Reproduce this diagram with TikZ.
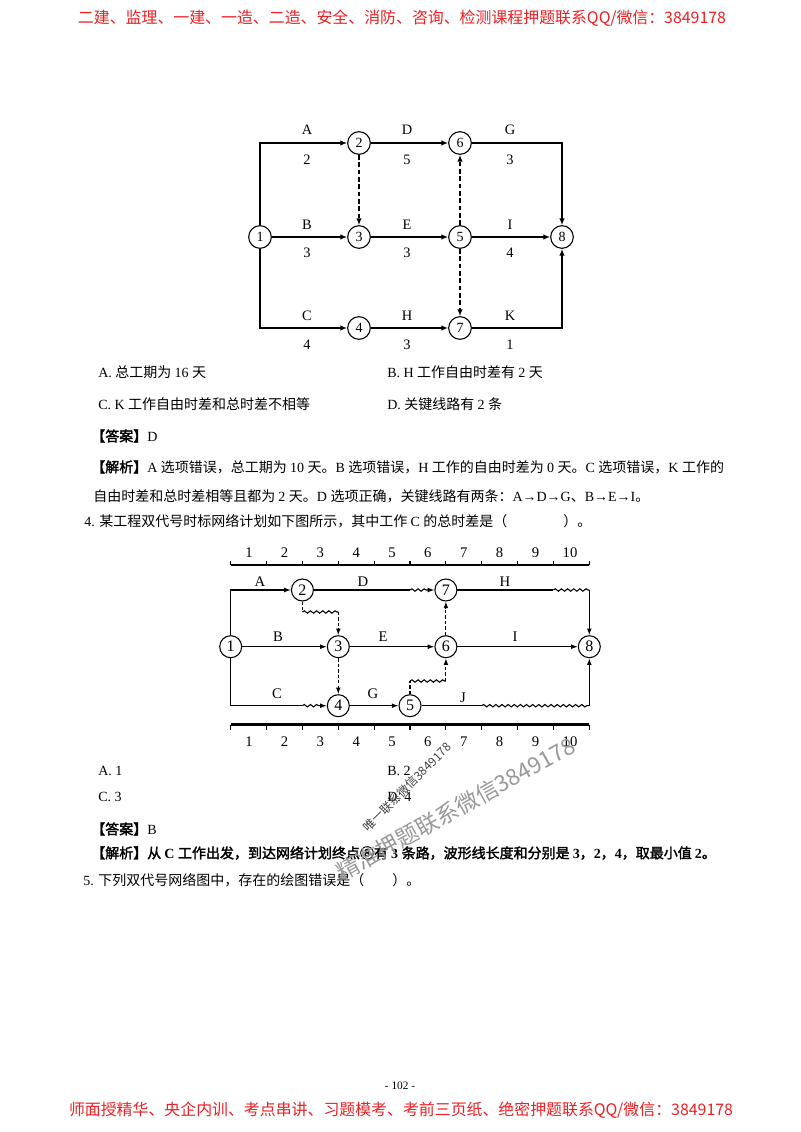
\documentclass[tikz,border=0pt]{standalone}
\usepackage{fontspec}
\setmainfont{Liberation Serif}
\newfontfamily\cjkfam{Noto Sans CJK SC}[AutoFakeBold=2]
\usetikzlibrary{arrows.meta,decorations.pathmorphing}
% automatic switching between the Latin font and the CJK font
\XeTeXinterchartokenstate=1
\chardef\cjkclass=7
\newcount\cjkc
\def\cjkrange#1#2{\cjkc=#1\relax\loop\XeTeXcharclass\cjkc=\cjkclass\relax\ifnum\cjkc<#2\relax\advance\cjkc by 1\relax\repeat}
\cjkrange{"4E00}{"9FFF}
\cjkrange{"3000}{"303F}
\cjkrange{"FF00}{"FFEF}
\cjkrange{"2460}{"24FF}
\XeTeXinterchartoks 0 \cjkclass = {\cjkfam}
\XeTeXinterchartoks 4095 \cjkclass = {\cjkfam}
\XeTeXinterchartoks \cjkclass 0 = {\rmfamily}
\XeTeXinterchartoks 4095 0 = {\rmfamily}
\definecolor{hdr}{RGB}{238,32,36}
\tikzset{
  hdrtxt/.style={text=hdr,inner sep=0pt,font={\XeTeXinterchartokenstate=0 \cjkfam\fontsize{11.93}{13}\selectfont}},
  txt/.style={anchor=west,inner sep=0pt,font=\fontsize{10.5}{12}\selectfont},
  wmark/.style={inner sep=0pt,font={\XeTeXinterchartokenstate=0 \cjkfam\fontsize{#1}{#1}\selectfont}},
  c1/.style={circle,draw,line width=0.8pt,minimum size=17pt,inner sep=0pt,fill=white,font=\fontsize{10.5}{10.5}\selectfont},
  lab1/.style={inner sep=0pt,font=\fontsize{10.8}{11}\selectfont},
  e1/.style={line width=1.2pt,-{Latex[length=5pt,width=4pt]}},
  d1/.style={e1,dash pattern=on 3.5pt off 2pt},
  c2/.style={circle,draw,line width=0.8pt,minimum size=16.5pt,inner sep=0pt,fill=white,font=\fontsize{12}{12}\selectfont},
  lab2/.style={inner sep=0pt,font=\fontsize{11}{11}\selectfont},
  sc/.style={inner sep=0pt,font=\fontsize{11}{11}\selectfont},
  l2/.style={line width=0.8pt},
  e2/.style={line width=0.8pt,-{Latex[length=5pt,width=3.6pt]}},
  d2/.style={line width=0.8pt,dash pattern=on 2.5pt off 1.6pt},
  d2e/.style={d2,-{Latex[length=5pt,width=3.6pt]}},
  wav/.style={line width=0.8pt,decorate,decoration={snake,amplitude=0.9pt,segment length=4.6pt}}
}
\begin{document}
\begin{tikzpicture}[x=0.75pt,y=-0.75pt]
\useasboundingbox (0,0) rectangle (800,1132);
\fill[white] (0,0) rectangle (800,1132);

% header / footer
\node[hdrtxt] (hdr) at (402,18) {二建、监理、一建、一造、二造、安全、消防、咨询、检测课程押题联系QQ/微信：3849178};
\node[hdrtxt] (ftr) at (401,1110) {师面授精华、央企内训、考点串讲、习题模考、考前三页纸、绝密押题联系QQ/微信：3849178};
\node[inner sep=0pt,font=\fontsize{8.5}{9}\selectfont] (pg) at (400,1086) {- 102 -};

% ---------- diagram 1 ----------
\node[c1] (a1) at (260,237) {1};
\node[c1] (a2) at (359,143) {2};
\node[c1] (a6) at (460,143) {6};
\node[c1] (a3) at (359,237) {3};
\node[c1] (a5) at (460,237) {5};
\node[c1] (a8) at (562,237) {8};
\node[c1] (a4) at (359,328) {4};
\node[c1] (a7) at (460,328) {7};
\draw[e1] (a1.north) |- (a2);
\draw[e1] (a1.south) |- (a4);
\draw[e1] (a1) -- (a3);
\draw[e1] (a2) -- (a6);
\draw[e1] (a3) -- (a5);
\draw[e1] (a5) -- (a8);
\draw[e1] (a4) -- (a7);
\draw[e1] (a6) -| (a8);
\draw[e1] (a7) -| (a8);
\draw[d1] (a2) -- (a3);
\draw[d1] (a5) -- (a6);
\draw[d1] (a5) -- (a7);
\node[lab1] (lA) at (307,130) {A};
\node[lab1] (nA) at (307,160) {2};
\node[lab1] (lD) at (407,130) {D};
\node[lab1] (nD) at (407,160) {5};
\node[lab1] (lG) at (510,130) {G};
\node[lab1] (nG) at (510,160) {3};
\node[lab1] (lB) at (307,225) {B};
\node[lab1] (nB) at (307,253) {3};
\node[lab1] (lE) at (407,225) {E};
\node[lab1] (nE) at (407,253) {3};
\node[lab1] (lI) at (510,225) {I};
\node[lab1] (nI) at (510,253) {4};
\node[lab1] (lC) at (307,316) {C};
\node[lab1] (nC) at (307,345) {4};
\node[lab1] (lH) at (407,316) {H};
\node[lab1] (nH) at (407,345) {3};
\node[lab1] (lK) at (510,316) {K};
\node[lab1] (nK) at (510,345) {1};

% ---------- text of question 3 ----------
\node[txt] (q3a) at (98,372) {A. 总工期为 16 天};
\node[txt] (q3b) at (387,372) {B. H 工作自由时差有 2 天};
\node[txt] (q3c) at (98,404) {C. K 工作自由时差和总时差不相等};
\node[txt] (q3d) at (387,404) {D. 关键线路有 2 条};
\node[txt] (q3ans) at (91,436) {{\bfseries 【答案】}D};
\node[txt] (q3j1) at (91,467) {{\bfseries 【解析】}A 选项错误，总工期为 10 天。B 选项错误，H 工作的自由时差为 0 天。C 选项错误，K 工作的};
\node[txt] (q3j2) at (93,496) {自由时差和总时差相等且都为 2 天。D 选项正确，关键线路有两条：A→D→G、B→E→I。};
\node[txt] (q4) at (84,521) {4. 某工程双代号时标网络计划如下图所示，其中工作 C 的总时差是（\hspace{4em}）。};

% ---------- diagram 2 (time scaled) ----------
\draw[line width=1.1pt] (230.7,565) -- (589.3,565);
\foreach \x in {230.7,266.6,302.4,338.3,374.1,410.0,445.9,481.7,517.6,553.4,589.3}
  \draw[line width=0.8pt] (\x,565) -- (\x,561);
\draw[line width=2pt] (230.7,724.5) -- (589.3,724.5);
\foreach \x in {230.7,266.6,302.4,338.3,374.1,410.0,445.9,481.7,517.6,553.4,589.3}
  \draw[line width=0.8pt] (\x,724.5) -- (\x,730);
\foreach \i/\x in {1/249,2/284.5,3/320.3,4/356.2,5/392.0,6/427.9,7/463.8,8/499.6,9/535.5,10/570}{
  \node[sc] (top\i) at (\x,553) {\i};
  \node[sc] (bot\i) at (\x,742) {\i};
}
\node[c2] (b1) at (230.7,646.7) {1};
\node[c2] (b2) at (302.4,590) {2};
\node[c2] (b7) at (445.9,590) {7};
\node[c2] (b3) at (338.3,646.7) {3};
\node[c2] (b6) at (445.9,646.7) {6};
\node[c2] (b8) at (589.3,646.7) {8};
\node[c2] (b4) at (338.3,705.7) {4};
\node[c2] (b5) at (410,705.7) {5};
\coordinate (dA) at (410,590);
\coordinate (dB) at (429,590);
\coordinate (hA) at (553.4,590);
\coordinate (hB) at (589.3,590);
\coordinate (wa) at (302.4,612);
\coordinate (wb) at (338.3,612);
\coordinate (cA) at (302.4,705.7);
\coordinate (cB) at (321,705.7);
\coordinate (gA) at (410,681);
\coordinate (gB) at (445.9,681);
\coordinate (jA) at (481.7,705.7);
\coordinate (jB) at (589.3,705.7);
% A
\draw[e2] (b1) |- (b2);
% D
\draw[l2] (b2) -- (dA);
\draw[wav] (dA) -- (dB);
\draw[e2] (dB) -- (b7);
% H
\draw[l2] (b7) -- (hA);
\draw[wav] (hA) -- (hB);
\draw[e2] (hB) -- (b8);
% dummy 2-3
\draw[d2] (b2) -- (wa);
\draw[wav] (wa) -- (wb);
\draw[d2e] (wb) -- (b3);
% B E I
\draw[e2] (b1) -- (b3);
\draw[e2] (b3) -- (b6);
\draw[e2] (b6) -- (b8);
% dummies 6-7, 3-4
\draw[d2e] (b6) -- (b7);
\draw[d2e] (b3) -- (b4);
% C
\draw[l2] (b1) |- (cA);
\draw[wav] (cA) -- (cB);
\draw[e2] (cB) -- (b4);
% G
\draw[e2] (b4) -- (b5);
% dummy 5-6
\draw[d2] (b5) -- (gA);
\draw[wav] (gA) -- (gB);
\draw[d2e] (gB) -- (b6);
% J
\draw[l2] (b5) -- (jA);
\draw[wav] (jA) -- (jB);
\draw[e2] (jB) -- (b8);
\node[lab2] (mA) at (260,582) {A};
\node[lab2] (mD) at (363,582) {D};
\node[lab2] (mH) at (505,582) {H};
\node[lab2] (mB) at (278,637) {B};
\node[lab2] (mE) at (383,637) {E};
\node[lab2] (mI) at (515,637) {I};
\node[lab2] (mC) at (277,694) {C};
\node[lab2] (mG) at (373,694) {G};
\node[lab2] (mJ) at (463,698) {J};

% ---------- text of question 4 / 5 ----------
\node[txt] (q4a) at (98,771) {A. 1};
\node[txt] (q4b) at (387,771) {B. 2};
\node[txt] (q4c) at (98,797) {C. 3};
\node[txt] (q4d) at (387,797) {D. 4};
\node[txt] (q4ans) at (91,829) {{\bfseries 【答案】}B};
\node[txt,font=\fontsize{10.5}{12}\selectfont\bfseries] (q4j) at (91,853) {【解析】从 C 工作出发，到达网络计划终点⑧有 3 条路，波形线长度和分别是 3，2，4，取最小值 2。};
\node[txt] (q5) at (83,880) {5. 下列双代号网络图中，存在的绘图错误是（\hspace{2em}）。};

% ---------- watermarks ----------
\node[wmark=9,text=black!75,rotate=45] (wm1) at (407,787) {唯一联系微信3849178};
\node[wmark=17,text=black!40,rotate=29] (wm2) at (456,809) {精准押题联系微信3849178};
\end{tikzpicture}
\end{document}
